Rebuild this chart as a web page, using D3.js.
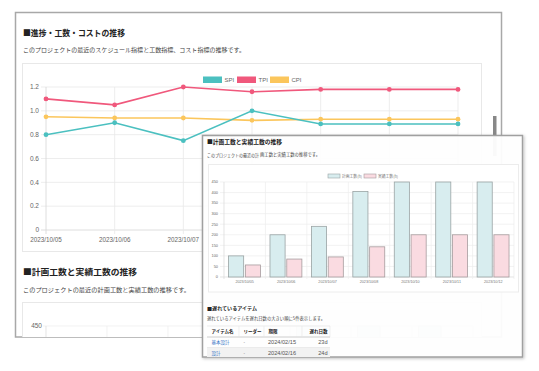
<!DOCTYPE html>
<html>
<head>
<meta charset="utf-8">
<script src="https://cdn.jsdelivr.net/npm/d3@7"></script>
<style>
html, body { margin: 0; padding: 0; background: #fff; }
svg { display: block; font-family: "Noto Sans CJK JP", "Noto Sans", sans-serif; }
.num { font-family: "Liberation Sans", Arial, sans-serif; }
</style>
</head>
<body>
<div id="chart"></div>
<script>
var dates = ["2023/10/05", "2023/10/06", "2023/10/07", "2023/10/08", "2023/10/10", "2023/10/11", "2023/10/12"];
var spi = [0.80, 0.90, 0.75, 1.00, 0.89, 0.89, 0.89];
var tpi = [1.10, 1.05, 1.20, 1.16, 1.18, 1.18, 1.18];
var cpi = [0.95, 0.94, 0.94, 0.92, 0.93, 0.93, 0.93];
var lineTicks = [0, 0.2, 0.4, 0.6, 0.8, 1.0, 1.2];
var lineTickLabels = ["0", "0.2", "0.4", "0.6", "0.8", "1.0", "1.2"];

var plannedHours = [100, 200, 240, 405, 450, 450, 450];
var actualHours = [57, 85, 95, 143, 200, 200, 200];
var barTicks = [0, 50, 100, 150, 200, 250, 300, 350, 400, 450];

var tableHeaders = ["アイテム名", "リーダー", "期限", "遅れ日数"];
var itemNames = ["基本設計", "設計"];
var leaders = ["-", "-"];
var deadlines = ["2024/02/15", "2024/02/16"];
var delays = ["23d", "24d"];

var W = 539, H = 371;

var svg = d3.select("#chart")
    .append("svg")
    .attr("width", W)
    .attr("height", H)
    .attr("viewBox", "0 0 " + W + " " + H);

var defs = svg.append("defs");
defs.append("clipPath").attr("id", "backClip")
    .append("rect").attr("x", 15).attr("y", 12).attr("width", 487).attr("height", 325);
defs.append("clipPath").attr("id", "frontClip")
    .append("rect").attr("x", 202).attr("y", 135).attr("width", 321).attr("height", 222);
var shadow = defs.append("filter").attr("id", "shadow")
    .attr("x", "-5%").attr("y", "-5%").attr("width", "115%").attr("height", "115%");
shadow.append("feDropShadow")
    .attr("dx", 1).attr("dy", 1).attr("stdDeviation", 1.5)
    .attr("flood-color", "#000").attr("flood-opacity", 0.25);

function addText(g, x, y, str, size, opts) {
    opts = opts || {};
    var t = g.append("text")
        .attr("x", x)
        .attr("y", y)
        .attr("font-size", size)
        .attr("fill", opts.fill || "#333")
        .attr("font-weight", opts.bold ? "bold" : "normal")
        .attr("text-anchor", opts.anchor || "start")
        .text(str);
    if (opts.len) t.attr("textLength", opts.len).attr("lengthAdjust", "spacingAndGlyphs");
    if (opts.cls) t.attr("class", opts.cls);
    return t;
}

// ---------- back panel ----------
var back = svg.append("g");
back.append("rect")
    .attr("x", 15.5).attr("y", 12.5).attr("width", 486).attr("height", 324.5)
    .attr("fill", "#fff").attr("stroke", "#a8a8a8").attr("stroke-width", 1.5);
var backIn = back.append("g").attr("clip-path", "url(#backClip)");

addText(backIn, 23, 36, "■進捗・工数・コストの推移", 8.5, {bold: true, len: 102, fill: "#222"});
addText(backIn, 23, 52, "このプロジェクトの最近のスケジュール指標と工数指標、コスト指標の推移です。", 6, {len: 222, fill: "#444"});

backIn.append("rect")
    .attr("x", 22.5).attr("y", 63.5).attr("width", 459).attr("height", 188)
    .attr("fill", "#fff").attr("stroke", "#e8e8e8");

drawLineChart(backIn);

addText(backIn, 23, 275, "■計画工数と実績工数の推移", 8.5, {bold: true, len: 114, fill: "#222"});
addText(backIn, 23, 292, "このプロジェクトの最近の計画工数と実績工数の推移です。", 6, {len: 167, fill: "#444"});
backIn.append("rect")
    .attr("x", 22.5).attr("y", 302.5).attr("width", 459).attr("height", 80)
    .attr("fill", "#fff").attr("stroke", "#e8e8e8");

// only the top of this chart is visible above the panel edge
drawBarChart(backIn, {left: 46, right: 473, top: 326, bottom: 469, font: 6.5,
    labelX: 42, tickStart: 43, legend: null, visibleBottom: 335});

// scrollbar of the back page
back.append("rect")
    .attr("x", 493).attr("y", 116).attr("width", 3.5).attr("height", 40)
    .attr("fill", "#888");

function drawLineChart(g) {
    var xScale = d3.scalePoint()
        .domain(dates)
        .range([46, 458]);
    var yScale = d3.scaleLinear()
        .domain([0, 1.2])
        .range([230, 87]);

    // Y gridlines
    g.append("g")
        .selectAll("line")
        .data(lineTicks)
        .enter().append("line")
        .attr("x1", 41).attr("x2", 458)
        .attr("y1", d => yScale(d)).attr("y2", d => yScale(d))
        .attr("stroke", d => d === 0 ? "#d6d6d6" : "#e8e8e8")
        .attr("stroke-width", 0.8);

    // X gridlines
    g.append("g")
        .selectAll("line")
        .data(dates)
        .enter().append("line")
        .attr("x1", d => xScale(d)).attr("x2", d => xScale(d))
        .attr("y1", 87).attr("y2", 234)
        .attr("stroke", (d, i) => i === 0 ? "#d6d6d6" : "#e8e8e8")
        .attr("stroke-width", 0.8);

    g.append("g")
        .selectAll("text")
        .data(lineTicks)
        .enter().append("text")
        .attr("class", "num")
        .attr("x", 39)
        .attr("y", d => yScale(d) + 2.3)
        .attr("text-anchor", "end")
        .attr("font-size", 6.5)
        .attr("fill", "#666")
        .text((d, i) => lineTickLabels[i]);

    g.append("g")
        .selectAll("text")
        .data(dates)
        .enter().append("text")
        .attr("class", "num")
        .attr("x", d => xScale(d))
        .attr("y", 241.5)
        .attr("text-anchor", "middle")
        .attr("font-size", 6.3)
        .attr("fill", "#666")
        .text(d => d);

    var series = [
        {name: "SPI", values: spi, color: "#4bc0c0", lx: 203},
        {name: "TPI", values: tpi, color: "#f0587c", lx: 237},
        {name: "CPI", values: cpi, color: "#fbc65c", lx: 270}
    ];

    var line = d3.line()
        .x((d, i) => xScale(dates[i]))
        .y(d => yScale(d));

    // draw CPI first, then SPI, TPI on top
    [series[2], series[0], series[1]].forEach(function(s) {
        g.append("path")
            .datum(s.values)
            .attr("d", line)
            .attr("fill", "none")
            .attr("stroke", s.color)
            .attr("stroke-width", 1.6);
        g.append("g")
            .selectAll("circle")
            .data(s.values)
            .enter().append("circle")
            .attr("cx", (d, i) => xScale(dates[i]))
            .attr("cy", d => yScale(d))
            .attr("r", 2.4)
            .attr("fill", s.color);
    });

    // legend
    series.forEach(function(s) {
        g.append("rect")
            .attr("x", s.lx).attr("y", 76.5).attr("width", 19).attr("height", 6.5)
            .attr("fill", s.color);
        addText(g, s.lx + 21.5, 82, s.name, 6, {fill: "#666", cls: "num"});
    });
}

function drawBarChart(g, box) {
    var visibleBottom = box.visibleBottom || Infinity;
    var x0 = d3.scaleBand()
        .domain(dates)
        .range([box.left, box.right]);
    var bw = x0.bandwidth();
    var x1 = d3.scaleBand()
        .domain(["planned", "actual"])
        .range([bw * 0.11, bw * 0.88])
        .paddingInner(0.1);
    var yScale = d3.scaleLinear()
        .domain([0, 450])
        .range([box.bottom, box.top]);

    g.append("g")
        .selectAll("line")
        .data(barTicks)
        .enter().append("line")
        .attr("x1", box.tickStart).attr("x2", box.right)
        .attr("y1", d => yScale(d)).attr("y2", d => yScale(d))
        .attr("stroke", d => d === 0 ? "#d8d8d8" : "#ececec")
        .attr("stroke-width", 0.7);

    var edges = dates.map(d => x0(d)).concat([box.right]);
    g.append("g")
        .selectAll("line")
        .data(edges)
        .enter().append("line")
        .attr("x1", d => d).attr("x2", d => d)
        .attr("y1", box.top).attr("y2", box.bottom + 2)
        .attr("stroke", (d, i) => i === 0 ? "#d8d8d8" : "#ececec")
        .attr("stroke-width", 0.7);

    g.append("g")
        .selectAll("text")
        .data(barTicks.filter(d => yScale(d) + box.font * 0.35 < visibleBottom))
        .enter().append("text")
        .attr("class", "num")
        .attr("x", box.labelX)
        .attr("y", d => yScale(d) + box.font * 0.35)
        .attr("text-anchor", "end")
        .attr("font-size", box.font)
        .attr("fill", "#666")
        .text(d => d);

    var groups = g.append("g")
        .selectAll("g")
        .data(dates)
        .enter().append("g")
        .attr("transform", d => "translate(" + x0(d) + ",0)");

    groups.append("rect")
        .attr("x", x1("planned"))
        .attr("width", x1.bandwidth())
        .attr("y", (d, i) => yScale(plannedHours[i]))
        .attr("height", (d, i) => box.bottom - yScale(plannedHours[i]))
        .attr("fill", "#d8edef")
        .attr("stroke", "#9aa3a4")
        .attr("stroke-width", 0.8);

    groups.append("rect")
        .attr("x", x1("actual"))
        .attr("width", x1.bandwidth())
        .attr("y", (d, i) => yScale(actualHours[i]))
        .attr("height", (d, i) => box.bottom - yScale(actualHours[i]))
        .attr("fill", "#fadbe1")
        .attr("stroke", "#a69c9e")
        .attr("stroke-width", 0.8);

    if (box.bottom + box.font * 1.6 < visibleBottom) {
        g.append("g")
            .selectAll("text")
            .data(dates)
            .enter().append("text")
            .attr("class", "num")
            .attr("x", d => x0(d) + bw / 2)
            .attr("y", box.bottom + box.font * 1.6)
            .attr("text-anchor", "middle")
            .attr("font-size", box.font * 0.95)
            .attr("fill", "#777")
            .text(d => d);
    }

    if (box.legend) {
        var L = box.legend;
        [["計画工数(h)", "#d8edef", "#9aa3a4"], ["実績工数(h)", "#fadbe1", "#a69c9e"]].forEach(function(item, i) {
            g.append("rect")
                .attr("x", L.x[i]).attr("y", L.y).attr("width", L.w).attr("height", L.h)
                .attr("fill", item[1]).attr("stroke", item[2]).attr("stroke-width", 0.6);
            addText(g, L.x[i] + L.w + 2, L.y + L.h, item[0], L.font, {fill: "#777", len: 20});
        });
    }
}

// ---------- front panel ----------
var front = svg.append("g");
front.append("rect")
    .attr("x", 202.5).attr("y", 135.5).attr("width", 320).attr("height", 221.5)
    .attr("fill", "#fff").attr("fill-opacity", 0.95)
    .attr("stroke", "#a0a0a0").attr("stroke-width", 1.5)
    .attr("filter", "url(#shadow)");
var frontIn = front.append("g").attr("clip-path", "url(#frontClip)");

addText(frontIn, 207, 143.5, "■計画工数と実績工数の推移", 6, {bold: true, len: 75, fill: "#222"});
addText(frontIn, 207, 157, "このプロジェクトの最近の計", 4.3, {len: 52, fill: "#444"});
addText(frontIn, 260, 155.5, "画工数と実績工数の推移です。", 4.3, {len: 60, fill: "#444"});

frontIn.append("rect")
    .attr("x", 208.5).attr("y", 164.5).attr("width", 310).attr("height", 127.5)
    .attr("fill", "#fff").attr("stroke", "#ececec");

drawBarChart(frontIn, {left: 224, right: 514, top: 182, bottom: 277, font: 3.9,
    labelX: 218, tickStart: 220,
    legend: {x: [328, 364], y: 174, w: 12, h: 4, font: 4}});

// delayed items table
addText(frontIn, 207, 309.5, "■遅れているアイテム", 5, {bold: true, len: 50, fill: "#222"});
addText(frontIn, 207, 320, "遅れているアイテムを遅れ日数の大きい順に5件表示します。", 4.3, {len: 118, fill: "#444"});

var colEdges = [207, 239, 264, 302, 330];
var rowTop = 326, headH = 11, rowH = 10.5;
var table = frontIn.append("g");

table.append("rect")
    .attr("x", colEdges[0]).attr("y", rowTop + headH + rowH)
    .attr("width", colEdges[4] - colEdges[0]).attr("height", rowH)
    .attr("fill", "#f2f2f2");

table.append("g")
    .selectAll("line")
    .data([rowTop, rowTop + headH + rowH, rowTop + headH + 2 * rowH])
    .enter().append("line")
    .attr("x1", colEdges[0]).attr("x2", colEdges[4])
    .attr("y1", d => d).attr("y2", d => d)
    .attr("stroke", "#e2e2e2").attr("stroke-width", 0.6);
table.append("line")
    .attr("x1", colEdges[0]).attr("x2", colEdges[4])
    .attr("y1", rowTop + headH).attr("y2", rowTop + headH)
    .attr("stroke", "#cfcfcf").attr("stroke-width", 1);
table.append("g")
    .selectAll("line")
    .data(colEdges.slice(1))
    .enter().append("line")
    .attr("x1", d => d).attr("x2", d => d)
    .attr("y1", rowTop).attr("y2", rowTop + headH)
    .attr("stroke", "#e6e6e6").attr("stroke-width", 0.6);

tableHeaders.forEach(function(h, i) {
    var last = i === tableHeaders.length - 1;
    addText(table, last ? colEdges[4] - 2.5 : colEdges[i] + 4.5, rowTop + 7.3, h, 4.5,
        {bold: true, fill: "#222", anchor: last ? "end" : "start"});
});

itemNames.forEach(function(name, r) {
    var y = rowTop + headH + rowH * r + 7;
    addText(table, colEdges[0] + 4.5, y, name, 4.5, {fill: "#2f6fc4"});
    addText(table, colEdges[1] + 4.5, y, leaders[r], 4.5, {fill: "#555"});
    addText(table, colEdges[2] + 4, y, deadlines[r], 5.6, {fill: "#555", cls: "num"});
    addText(table, colEdges[4] - 2.5, y, delays[r], 5.6, {fill: "#555", cls: "num", anchor: "end"});
});
</script>
</body>
</html>
